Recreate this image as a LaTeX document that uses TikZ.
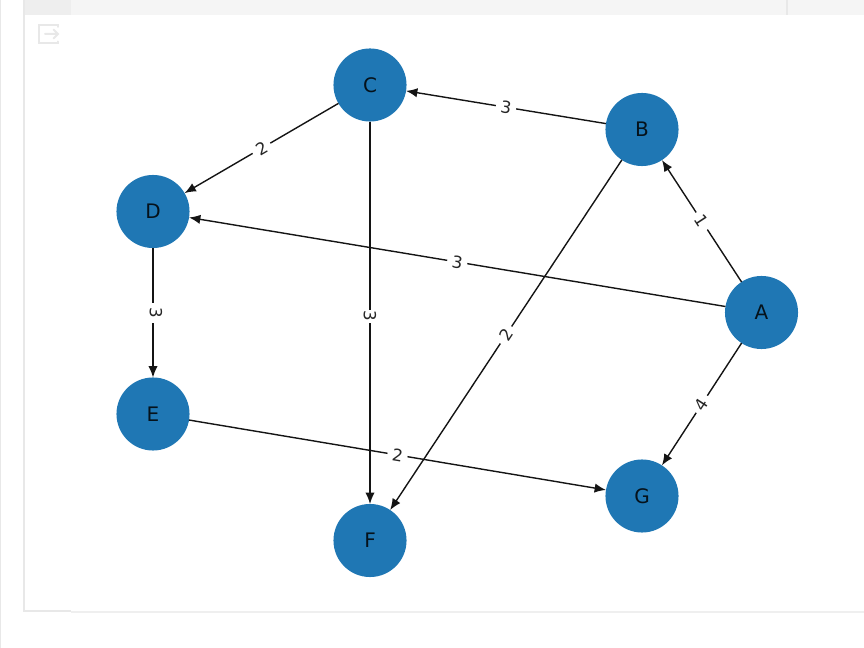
\documentclass[tikz,border=0pt]{standalone}
\usepackage{fontspec}
\setmainfont{DejaVu Sans}
\usetikzlibrary{arrows.meta,calc}
\definecolor{nodeblue}{HTML}{1F77B4}
\definecolor{barbg}{HTML}{F5F5F5}
\definecolor{tabbg}{HTML}{EEEEEE}
\definecolor{rulegray}{HTML}{E8E8E8}
\tikzset{
    vertex/.style={circle,fill=nodeblue,text=black!85!nodeblue,minimum size=54.8pt,inner sep=0pt,outer sep=0pt,font=\fontsize{15}{15}\selectfont},
    edge/.style={-{Latex[length=8.5pt,width=7pt]},line width=1.05pt,draw=black!92},
    weight/.style={midway,sloped,fill=white,text=black!85,inner xsep=3.6pt,inner ysep=1.5pt,font=\fontsize{12.5}{13}\selectfont}
}
\begin{document}
\begin{tikzpicture}[x=0.75pt,y=-0.75pt]
    \useasboundingbox (0,0) rectangle (864,648);

    % the notebook cell around the plot
    \fill[barbg] (24,0) rectangle (864,15.5);
    \fill[tabbg] (24,0) rectangle (71,15.5);
    \draw[rulegray,line width=0.9pt] (787,0) -- (787,15.5);
    \draw[rulegray,line width=0.9pt] (0.5,0) -- (0.5,648);
    \draw[rulegray,line width=1.1pt] (24,0) -- (24,611) -- (71,611);
    \draw[rulegray!70,line width=0.9pt] (71,612) -- (864,612);

    % the small output icon
    \draw[rulegray,line width=1.5pt,line cap=round]
        (58,27) -- (58,25) -- (38.5,25) -- (38.5,43.5) -- (58,43.5) -- (58,41.5);
    \draw[rulegray,line width=1.5pt,line cap=round]
        (45,34) -- (58,34) (53.5,29.5) -- (58,34) -- (53.5,38.5);

    % draw the vertices
    \foreach \name/\x/\y in {
        A/761.5/312.5,
        B/642/129.5,
        C/370/85,
        D/153/211.5,
        E/153/414,
        F/370/540.5,
        G/642/496}
            \node[vertex] (\name) at (\x,\y) {\name};

    % draw the edges with their weights
    \foreach \from/\to/\w/\tweak in {
        A/B/1/{},
        A/D/3/{},
        A/G/4/{},
        B/C/3/{},
        B/F/2/{},
        C/D/2/{},
        C/F/3/{pos=0.509,inner xsep=0.8pt},
        D/E/3/{yshift=2.2pt},
        E/G/2/{}}
            \draw[edge] (\from) -- node[weight,/utils/exec=\pgfkeysalsofrom{\tweak}] {\w} (\to);
\end{tikzpicture}
\end{document}
